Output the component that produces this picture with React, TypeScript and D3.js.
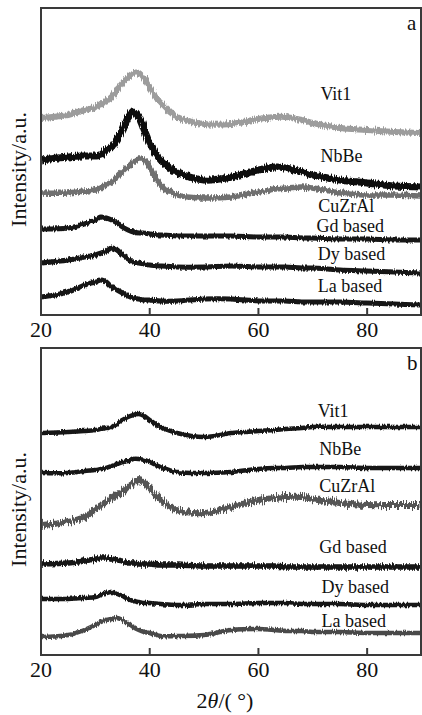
import React from "react";
import * as d3 from "d3";

// 2θ sample positions (degrees)
const angles = [20, 25, 28, 30, 31, 32, 33, 34, 35, 36, 37, 38, 39, 40, 42, 45, 50, 55, 60, 63, 65, 68, 70, 75, 80, 85, 90];

// Panel a intensities (a.u., offset-stacked)
const vitA = [197, 200, 205, 208, 211, 214, 218, 225, 232, 238, 242, 242, 236, 227, 212, 198, 191, 191, 196, 198, 198, 195, 192, 187, 185, 183, 182];
const nbA = [155, 158, 159, 159, 160, 165, 168, 176, 185, 197, 203, 198, 185, 172, 155, 143, 135, 138, 145, 148, 147, 143, 140, 135, 132, 129, 128];
const cuA = [122, 122, 124, 125, 127, 130, 133, 138, 143, 148, 153, 156, 155, 148, 130, 120, 117, 118, 123, 126, 127, 128, 127, 122, 120, 120, 119];
const gdA = [86, 87, 91, 95, 98, 97, 95, 92, 88, 85, 83, 82, 82, 81, 80, 79, 79, 79, 78, 78, 78, 77, 77, 76, 76, 75, 75];
const dyA = [52, 55, 58, 60, 62, 64, 67, 65, 60, 56, 53, 52, 51, 50, 49, 48, 48, 49, 48, 48, 48, 47, 47, 45, 44, 43, 42];
const laA = [18, 23, 30, 33, 35, 33, 28, 25, 22, 19, 17, 16, 15, 15, 14, 14, 16, 16, 14, 14, 14, 13, 13, 13, 12, 11, 10];

// Panel b intensities
const vitB = [222, 223, 224, 225, 226, 227, 228, 231, 235, 238, 240, 241, 239, 235, 228, 222, 218, 222, 224, 225, 226, 227, 228, 228, 228, 228, 228];
const nbB = [182, 182, 184, 185, 186, 187, 189, 191, 193, 194, 196, 196, 195, 193, 188, 183, 182, 183, 186, 187, 187, 188, 188, 188, 187, 187, 187];
const cuB = [130, 133, 138, 145, 149, 153, 157, 160, 163, 168, 172, 175, 173, 167, 155, 145, 142, 148, 155, 157, 158, 158, 156, 152, 150, 150, 150];
const gdB = [91, 92, 94, 96, 97, 97, 96, 95, 94, 92, 92, 91, 91, 91, 90, 90, 89, 89, 89, 89, 88, 88, 88, 88, 88, 88, 88];
const dyB = [56, 56, 57, 58, 60, 62, 63, 61, 59, 56, 54, 53, 52, 52, 51, 50, 51, 51, 52, 52, 52, 51, 51, 51, 50, 50, 50];
const laB = [18, 20, 25, 30, 33, 35, 36, 37, 35, 32, 28, 25, 23, 22, 19, 19, 20, 25, 26, 25, 24, 24, 23, 23, 22, 22, 22];

const seriesNames = ["Vit1", "NbBe", "CuZrAl", "Gd based", "Dy based", "La based"];
const xTicks = [20, 40, 60, 80];

// label anchors (2θ, intensity) for each series name
const labelAngleA = [71.4, 71.4, 71.0, 70.7, 70.9, 70.9];
const labelValA = [215, 153, 103, 83, 55, 23];
const labelAngleB = [70.9, 71.2, 71.2, 71.2, 71.6, 71.6];
const labelValB = [238, 200, 163, 102, 62, 28];

const FONT = "'Liberation Serif', 'Times New Roman', serif";

type Style = { color: string; width: number; filter: string };

function Panel({
  top, bottom, series, styles, labelAngles, labelVals, letter,
}: {
  top: number; bottom: number; series: number[][]; styles: Style[];
  labelAngles: number[]; labelVals: number[]; letter: string;
}) {
  const left = 41, right = 421;
  const x = d3.scaleLinear().domain([20, 90]).range([left, 421.5]);
  const y = d3.scaleLinear().domain([0, 307]).range([bottom, top]);
  const line = d3.line<number>()
    .x((_, i) => x(angles[i]))
    .y((d) => y(d))
    .curve(d3.curveCatmullRom.alpha(0.5));
  return (
    <g>
      <g clipPath={`url(#clip-${letter})`}>
        {series.map((s, i) => (
          <path key={i} d={line(s) || ""} fill="none" stroke={styles[i].color}
            strokeWidth={styles[i].width} strokeLinejoin="round" filter={styles[i].filter} />
        ))}
      </g>
      <clipPath id={`clip-${letter}`}>
        <rect x={left} y={top} width={right - left} height={bottom - top} />
      </clipPath>
      <rect x={left} y={top} width={right - left} height={bottom - top} fill="none" stroke="#3a3a3a" strokeWidth={2} />
      {xTicks.filter((t) => t > 20).map((t) => (
        <line key={t} x1={x(t)} x2={x(t)} y1={bottom} y2={bottom - 7} stroke="#3a3a3a" strokeWidth={2} />
      ))}
      {xTicks.map((t) => (
        <text key={t} x={x(t)} y={bottom + 22} textAnchor="middle" fontFamily={FONT} fontSize={22} fill="#111">{t}</text>
      ))}
      {seriesNames.map((n, i) => (
        <text key={n} x={x(labelAngles[i])} y={y(labelVals[i])} fontFamily={FONT} fontSize={18} fill="#111">{n}</text>
      ))}
      <text x={407} y={top + 22} fontFamily={FONT} fontSize={21} fill="#111">{letter}</text>
      <text transform={`translate(26,${(top + bottom) / 2 + 8}) rotate(-90)`} textAnchor="middle"
        fontFamily={FONT} fontSize={22} fill="#111">Intensity/a.u.</text>
    </g>
  );
}

export default function App() {
  const stylesA: Style[] = [
    { color: "#9c9c9c", width: 6, filter: "url(#noiseM)" },
    { color: "#0e0e0e", width: 7, filter: "url(#noiseM)" },
    { color: "#707070", width: 5.5, filter: "url(#noiseM)" },
    { color: "#151515", width: 5, filter: "url(#noiseS)" },
    { color: "#151515", width: 5, filter: "url(#noiseS)" },
    { color: "#151515", width: 5, filter: "url(#noiseS)" },
  ];
  const stylesB: Style[] = [
    { color: "#151515", width: 4.5, filter: "url(#noiseS)" },
    { color: "#151515", width: 4.5, filter: "url(#noiseS)" },
    { color: "#555555", width: 6, filter: "url(#noiseL)" },
    { color: "#151515", width: 5.5, filter: "url(#noiseM)" },
    { color: "#151515", width: 4.5, filter: "url(#noiseS)" },
    { color: "#4a4a4a", width: 4.5, filter: "url(#noiseS)" },
  ];
  return (
    <svg width={422} height={715} style={{ position: "absolute", left: 0, top: 0, background: "#fff" }}>
      <defs>
        <filter id="noiseS" filterUnits="userSpaceOnUse" x={0} y={0} width={422} height={715}>
          <feTurbulence type="fractalNoise" baseFrequency="0.9 0.06" numOctaves={2} seed={3} result="t" />
          <feDisplacementMap in="SourceGraphic" in2="t" scale={4} xChannelSelector="R" yChannelSelector="G" />
        </filter>
        <filter id="noiseM" filterUnits="userSpaceOnUse" x={0} y={0} width={422} height={715}>
          <feTurbulence type="fractalNoise" baseFrequency="0.9 0.06" numOctaves={2} seed={7} result="t" />
          <feDisplacementMap in="SourceGraphic" in2="t" scale={6} xChannelSelector="R" yChannelSelector="G" />
        </filter>
        <filter id="noiseL" filterUnits="userSpaceOnUse" x={0} y={0} width={422} height={715}>
          <feTurbulence type="fractalNoise" baseFrequency="0.9 0.06" numOctaves={2} seed={11} result="t" />
          <feDisplacementMap in="SourceGraphic" in2="t" scale={10} xChannelSelector="R" yChannelSelector="G" />
        </filter>
      </defs>
      <rect width={422} height={715} fill="#fff" />
      <Panel top={8} bottom={315} series={[vitA, nbA, cuA, gdA, dyA, laA]} styles={stylesA}
        labelAngles={labelAngleA} labelVals={labelValA} letter="a" />
      <Panel top={348} bottom={655} series={[vitB, nbB, cuB, gdB, dyB, laB]} styles={stylesB}
        labelAngles={labelAngleB} labelVals={labelValB} letter="b" />
      <text x={225} y={708} textAnchor="middle" fontFamily={FONT} fontSize={22} fill="#111">
        2<tspan fontStyle="italic">θ</tspan>/( °)
      </text>
    </svg>
  );
}
